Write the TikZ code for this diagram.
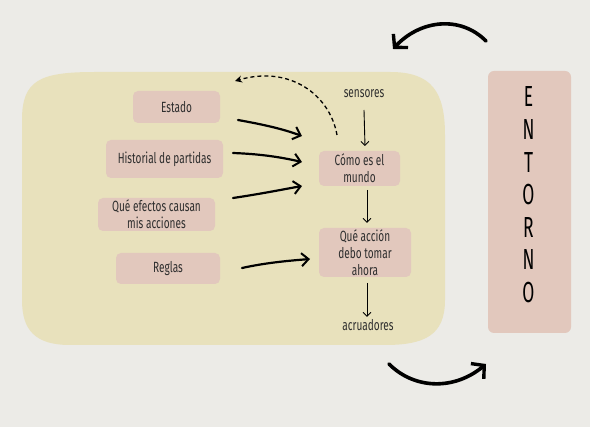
\documentclass[tikz,border=0pt]{standalone}
\usepackage{fontspec}
\setmainfont{Fira Sans}[FakeStretch=0.68]
\newfontfamily\entfont{Fira Sans}[FakeStretch=0.6]
\usetikzlibrary{arrows.meta}
\definecolor{bgc}{HTML}{ECEBE7}
\definecolor{blob}{HTML}{E8E1BC}
\definecolor{pinkb}{HTML}{E2C8BD}
\definecolor{txt}{HTML}{2E2E2E}
\tikzset{
  pbox/.style={fill=pinkb, rounded corners=5pt, inner sep=0pt, align=center, text=txt, font=\fontsize{14.8}{17}\selectfont},
  lbl/.style={text=txt, font=\fontsize{14.8}{16}\selectfont},
  thick arr/.style={line width=2.2pt, -{Straight Barb[length=7pt,width=13pt,line width=2pt]}, line cap=round},
  thin arr/.style={line width=0.9pt, -{Straight Barb[length=4pt,width=8pt,line width=0.9pt]}},
  big arr/.style={line width=3.6pt, line cap=round, -{Straight Barb[length=9pt,width=20pt,line width=3.4pt]}},
}
\begin{document}
\begin{tikzpicture}[x=1pt,y=-1pt]
\fill[bgc] (0,0) rectangle (590,427);
\useasboundingbox (0,0) rectangle (590,427);
% blob
\fill[blob] (22,120) .. controls (22,80) and (40,72) .. (95,72)
  -- (390,72) .. controls (432,72) and (445,92) .. (445,135)
  -- (445,300) .. controls (445,335) and (425,345) .. (385,345)
  -- (70,345) .. controls (35,345) and (22,330) .. (22,300) -- cycle;
% boxes
\node[pbox, minimum width=87pt, minimum height=32pt] (est) at (176.5,107) {Estado};
\node[pbox, minimum width=117pt, minimum height=38pt] (his) at (164.5,159) {Historial de partidas};
\node[pbox, minimum width=117pt, minimum height=33pt] (efe) at (156.5,214.5) {Qué efectos causan\\mis acciones};
\node[pbox, minimum width=104pt, minimum height=31pt] (reg) at (168,268.5) {Reglas};
\node[pbox, minimum width=81pt, minimum height=35pt] (com) at (359.5,168.5) {Cómo es el\\mundo};
\node[pbox, minimum width=92pt, minimum height=49pt] (acc) at (365,252.5) {Qué acción\\debo tomar\\ahora};
\node[lbl] (sen) at (364,94) {sensores};
\node[lbl] (acr) at (368,325) {acruadores};
\node[fill=pinkb, rounded corners=6pt, minimum width=83pt, minimum height=262pt] (ent) at (529.5,202) {};
\foreach \l [count=\i] in {E,N,T,O,R,N,O}
  \node[text=black, font=\entfont\fontsize{29}{29}\selectfont, inner sep=0pt] (l\i) at (528.5, 97+32.6*\i-32.6) {\l};
% coordinates for arrow ends
\coordinate (a1s) at (238,120);
\coordinate (a1e) at (302,136);
\coordinate (a2s) at (233,153);
\coordinate (a2e) at (302,162);
\coordinate (a3s) at (233,198);
\coordinate (a3e) at (302,186);
\coordinate (a4s) at (242,268);
\coordinate (a4e) at (310,259);
\draw[thick arr] (a1s) .. controls (260,124) and (280,128) .. (a1e);
\draw[thick arr] (a2s) .. controls (260,154) and (280,157) .. (a2e);
\draw[thick arr] (a3s) .. controls (260,194) and (280,190) .. (a3e);
\draw[thick arr] (a4s) .. controls (265,263) and (285,261) .. (a4e);
% thin arrows
\coordinate (s1) at (364,110);
\coordinate (s2) at (365,146);
\coordinate (c1) at (367,190);
\coordinate (c2) at (367,223);
\coordinate (q1) at (367,283);
\coordinate (q2) at (367,317);
\draw[thin arr] (s1) -- (s2);
\draw[thin arr] (c1) -- (c2);
\draw[thin arr] (q1) -- (q2);
% dashed
\coordinate (ds) at (337,135);
\coordinate (de) at (235,81);
\draw[line width=1.3pt, dash pattern=on 4pt off 3pt, -{Stealth[length=7pt,width=7pt]}] (ds) .. controls (330,95) and (290,65) .. (de);
% big arrows
\coordinate (t1) at (486,41);
\coordinate (t2) at (393,49);
\draw[big arr] (t1) .. controls (460,15) and (420,20) .. (t2);
\coordinate (b1) at (389,364);
\coordinate (b2) at (486,364);
\draw[big arr] (b1) .. controls (415,390) and (455,390) .. (b2);
\end{tikzpicture}
\end{document}
